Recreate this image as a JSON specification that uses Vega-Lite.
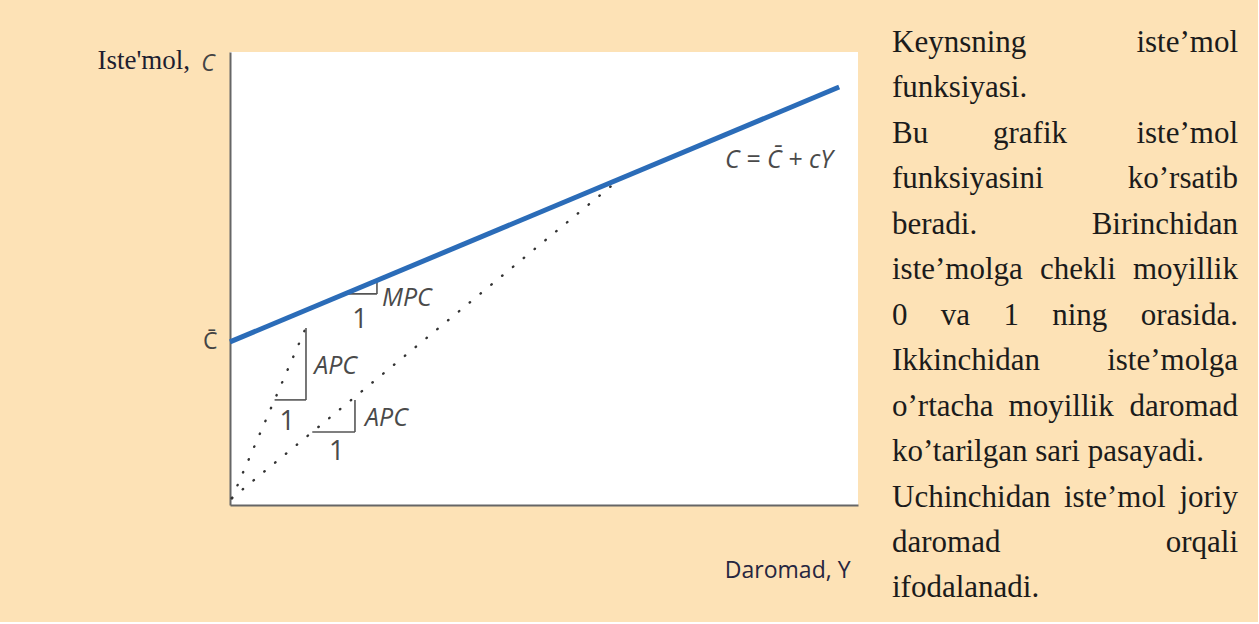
{
  "$schema": "https://vega.github.io/schema/vega-lite/v6.json",
  "background": "#FDE2B6",
  "padding": {"left": 97, "top": 27, "right": 20, "bottom": 18},
  "bounds": "flush",
  "spacing": 34,
  "datasets": {
    "consumption": [
      {"Y": 0, "C": 36},
      {"Y": 97, "C": 92.26}
    ],
    "rays": [
      {"ray": "a", "Y": 0.3, "C": 1.5},
      {"ray": "a", "Y": 12.7, "C": 41.1},
      {"ray": "b", "Y": 0.3, "C": 1.5},
      {"ray": "b", "Y": 61.3, "C": 71.1}
    ],
    "legs": [
      {"Y": 7.1, "Y2": 12.1, "C": 23.2, "C2": 23.2},
      {"Y": 12.1, "Y2": 12.1, "C": 23.2, "C2": 39.1},
      {"Y": 13.1, "Y2": 19.9, "C": 16.1, "C2": 16.1},
      {"Y": 19.9, "Y2": 19.9, "C": 16.1, "C2": 23.2},
      {"Y": 18.3, "Y2": 23.4, "C": 46.6, "C2": 46.6},
      {"Y": 23.4, "Y2": 23.4, "C": 46.6, "C2": 49.6}
    ],
    "ratios": [
      {"Y": 13.4, "C": 30.7, "label": "APC"},
      {"Y": 21.5, "C": 19.2, "label": "APC"},
      {"Y": 24.2, "C": 45.7, "label": "MPC"}
    ],
    "units": [
      {"Y": 9.1, "C": 18.3, "label": "1"},
      {"Y": 17.0, "C": 11.7, "label": "1"},
      {"Y": 20.7, "C": 40.8, "label": "1"}
    ],
    "equation": [
      {"Y": 96, "C": 76.2, "label": "C = C\u0304 + cY"}
    ],
    "symbol": [
      {"Y": -3.5, "C": 95.8, "label": "C"}
    ],
    "notes": [
      {"line": 1, "word": "Keynsning", "pos": 0},
      {"line": 1, "word": "iste\u2019mol", "pos": 1},
      {"line": 2, "word": "funksiyasi.", "pos": 0},
      {"line": 3, "word": "Bu", "pos": 0},
      {"line": 3, "word": "grafik", "pos": 0.292},
      {"line": 3, "word": "iste\u2019mol", "pos": 1},
      {"line": 4, "word": "funksiyasini", "pos": 0},
      {"line": 4, "word": "ko\u2019rsatib", "pos": 1},
      {"line": 5, "word": "beradi.", "pos": 0},
      {"line": 5, "word": "Birinchidan", "pos": 1},
      {"line": 6, "word": "iste\u2019molga", "pos": 0},
      {"line": 6, "word": "chekli", "pos": 0.428},
      {"line": 6, "word": "moyillik", "pos": 1},
      {"line": 7, "word": "0", "pos": 0},
      {"line": 7, "word": "va", "pos": 0.141},
      {"line": 7, "word": "1", "pos": 0.322},
      {"line": 7, "word": "ning", "pos": 0.463},
      {"line": 7, "word": "orasida.", "pos": 1},
      {"line": 8, "word": "Ikkinchidan", "pos": 0},
      {"line": 8, "word": "iste\u2019molga", "pos": 1},
      {"line": 9, "word": "o\u2019rtacha", "pos": 0},
      {"line": 9, "word": "moyillik", "pos": 0.337},
      {"line": 9, "word": "daromad", "pos": 1},
      {"line": 10, "word": "ko\u2019tarilgan sari pasayadi.", "pos": 0},
      {"line": 11, "word": "Uchinchidan", "pos": 0},
      {"line": 11, "word": "iste\u2019mol", "pos": 0.497},
      {"line": 11, "word": "joriy", "pos": 1},
      {"line": 12, "word": "daromad", "pos": 0},
      {"line": 12, "word": "orqali", "pos": 1},
      {"line": 13, "word": "ifodalanadi.", "pos": 0}
    ]
  },
  "hconcat": [
    {
      "width": 628,
      "height": 453,
      "view": {"fill": "white", "stroke": null},
      "encoding": {
        "x": {
          "field": "Y",
          "type": "quantitative",
          "scale": {"domain": [0, 100], "nice": false, "zero": false},
          "axis": {
            "domainColor": "#666666",
            "domainWidth": 2,
            "ticks": false,
            "labels": false,
            "grid": false,
            "title": "Daromad, Y",
            "titleFont": "Open Sans",
            "titleFontSize": 23,
            "titleFontWeight": "normal",
            "titleColor": "#262640",
            "titleAlign": "right",
            "titleBaseline": "alphabetic",
            "titleX": 620,
            "titleY": 72
          }
        },
        "y": {
          "field": "C",
          "type": "quantitative",
          "scale": {"domain": [0, 100], "nice": false, "zero": false},
          "axis": {
            "domainColor": "#666666",
            "domainWidth": 2,
            "ticks": false,
            "grid": false,
            "values": [36],
            "labelExpr": "'C\u0304'",
            "labelFont": "Open Sans",
            "labelFontSize": 23,
            "labelColor": "#444444",
            "labelPadding": 13,
            "title": "Iste'mol,",
            "titleFont": "Liberation Serif",
            "titleFontSize": 27,
            "titleFontWeight": "normal",
            "titleColor": "#1e1e30",
            "titleAngle": 0,
            "titleAlign": "left",
            "titleBaseline": "alphabetic",
            "titleX": -133,
            "titleY": 16
          }
        }
      },
      "layer": [
        {
          "data": {"name": "rays"},
          "mark": {"type": "line", "color": "#333333", "strokeWidth": 2.4, "strokeDash": [0.5, 13.5], "strokeCap": "round"},
          "encoding": {"detail": {"field": "ray"}}
        },
        {
          "data": {"name": "legs"},
          "mark": {"type": "rule", "color": "#555555", "strokeWidth": 1.6},
          "encoding": {"x2": {"field": "Y2"}, "y2": {"field": "C2"}}
        },
        {
          "data": {"name": "consumption"},
          "mark": {"type": "line", "color": "#2B6CB8", "strokeWidth": 5}
        },
        {
          "data": {"name": "ratios"},
          "mark": {"type": "text", "align": "left", "baseline": "middle", "font": "Open Sans", "fontStyle": "italic", "fontSize": 25, "color": "#4a4a4a"},
          "encoding": {"text": {"field": "label"}}
        },
        {
          "data": {"name": "units"},
          "mark": {"type": "text", "align": "center", "baseline": "middle", "font": "Open Sans", "fontSize": 27, "color": "#4a4a4a"},
          "encoding": {"text": {"field": "label"}}
        },
        {
          "data": {"name": "equation"},
          "mark": {"type": "text", "align": "right", "baseline": "middle", "font": "Open Sans", "fontStyle": "italic", "fontSize": 25, "color": "#4a4a4a"},
          "encoding": {"text": {"field": "label"}}
        },
        {
          "data": {"name": "symbol"},
          "mark": {"type": "text", "align": "center", "baseline": "alphabetic", "font": "Open Sans", "fontStyle": "italic", "fontSize": 23, "color": "#444444"},
          "encoding": {"text": {"field": "label"}}
        }
      ]
    },
    {
      "width": 346,
      "height": 550,
      "view": {"fill": null, "stroke": null},
      "data": {"name": "notes"},
      "encoding": {
        "x": {"field": "pos", "type": "quantitative", "scale": {"domain": [0, 1], "nice": false, "zero": false}, "axis": null},
        "y": {"field": "line", "type": "quantitative", "scale": {"domain": [1, 13.1], "nice": false, "zero": false, "reverse": true}, "axis": null},
        "text": {"field": "word"}
      },
      "layer": [
        {
          "transform": [{"filter": "datum.pos < 1"}],
          "mark": {"type": "text", "align": "left", "baseline": "alphabetic", "font": "Liberation Serif", "fontSize": 31, "color": "#1b1b1b"}
        },
        {
          "transform": [{"filter": "datum.pos == 1"}],
          "mark": {"type": "text", "align": "right", "baseline": "alphabetic", "font": "Liberation Serif", "fontSize": 31, "color": "#1b1b1b"}
        }
      ]
    }
  ],
  "config": {
    "view": {"stroke": null}
  }
}
